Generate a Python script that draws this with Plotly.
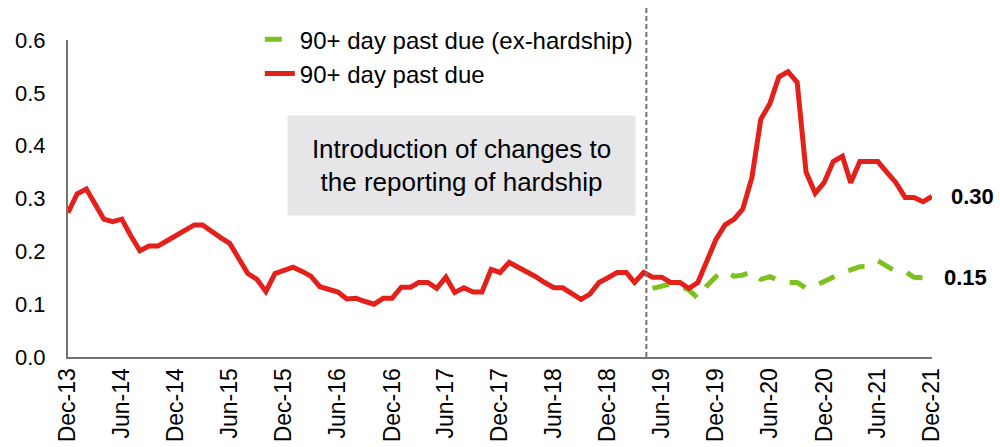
import pandas as pd
import plotly.graph_objects as go

months = pd.date_range("2013-12-01", "2021-12-01", freq="MS")

# 90+ day past due, monthly Dec-13 .. Dec-21
dpd90 = [0.273, 0.309, 0.318, 0.29, 0.261, 0.256, 0.261, 0.23, 0.201, 0.21,
         0.21, 0.22, 0.23, 0.24, 0.25, 0.25, 0.237, 0.226, 0.215, 0.187,
         0.158, 0.147, 0.124, 0.158, 0.164, 0.17, 0.162, 0.153, 0.133, 0.129,
         0.123, 0.11, 0.111, 0.105, 0.10, 0.111, 0.111, 0.132, 0.132, 0.141,
         0.141, 0.13, 0.151, 0.122, 0.131, 0.123, 0.123, 0.166, 0.16, 0.179,
         0.17, 0.161, 0.152, 0.141, 0.131, 0.131, 0.12, 0.109, 0.119, 0.141,
         0.15, 0.16, 0.16, 0.141, 0.16, 0.151, 0.151, 0.141, 0.141, 0.13,
         0.141, 0.184, 0.222, 0.25, 0.261, 0.28, 0.34, 0.45, 0.48, 0.53,
         0.54, 0.52, 0.35, 0.31, 0.33, 0.37, 0.38, 0.33, 0.37, 0.37,
         0.37, 0.35, 0.33, 0.302, 0.302, 0.294, 0.304]

# 90+ day past due ex-hardship, from May-19
exh_start = 65
dpd90_exh = [0.13, 0.133, 0.138, 0.135, 0.127, 0.111, 0.135, 0.152, 0.162, 0.153,
             0.155, 0.162, 0.147, 0.152, 0.145, 0.141, 0.141, 0.13, 0.135, 0.143,
             0.152, 0.16, 0.165, 0.171, 0.172, 0.182, 0.172, 0.162, 0.162, 0.151,
             0.15, 0.15]

change_date = "2019-04-10"
box_text = "Introduction of changes to<br>the reporting of hardship"

red = "#E3201A"
green = "#7DC11F"
axis_grey = "#777272"
font = "Liberation Sans"

fig = go.Figure()
fig.add_trace(go.Scatter(x=months[exh_start:], y=dpd90_exh, mode="lines",
                         name="90+ day past due (ex-hardship)",
                         line=dict(color=green, width=5, dash="17px,15px")))
fig.add_trace(go.Scatter(x=months, y=dpd90, mode="lines",
                         name="90+ day past due",
                         line=dict(color=red, width=5)))

fig.add_shape(type="line", xref="x", yref="paper", x0=change_date, x1=change_date,
              y0=0, y1=1.11, line=dict(color=axis_grey, width=2, dash="5px,3px"))

fig.add_annotation(x="2017-07-25", y=0.363, xref="x", yref="y", text=box_text,
                   showarrow=False, width=347, height=99, borderpad=0,
                   bgcolor="#E6E5E8", font=dict(size=26, color="black", family=font))

fig.add_annotation(x=months[-1], y=dpd90[-1], text="<b>%.2f</b>" % dpd90[-1],
                   showarrow=False, xanchor="left", xshift=17,
                   font=dict(size=22, color="black", family=font))
fig.add_annotation(x=months[-1], y=dpd90_exh[-1], text="<b>%.2f</b>" % dpd90_exh[-1],
                   showarrow=False, xanchor="left", xshift=10,
                   font=dict(size=22, color="black", family=font))

fig.update_layout(
    width=1000, height=447,
    margin=dict(l=68, r=68, t=40, b=90),
    plot_bgcolor="white", paper_bgcolor="white",
    font=dict(family=font, color="black"),
    showlegend=True,
    legend=dict(x=0.222, y=1.072, xanchor="left", yanchor="top",
                font=dict(size=24), bgcolor="rgba(0,0,0,0)", tracegroupgap=0),
    xaxis=dict(range=[months[0], months[-1]], tick0="2013-12-01", dtick="M6",
               tickformat="%b-%y", tickangle=-90, tickfont=dict(size=23),
               showgrid=False, showline=True, linecolor=axis_grey, linewidth=2,
               ticks="", zeroline=False, automargin=False),
    yaxis=dict(range=[0, 0.6], dtick=0.1, tickformat=".1f", tickfont=dict(size=22),
               showgrid=False, showline=True, linecolor=axis_grey, linewidth=2,
               ticks="", zeroline=False, ticklabelstandoff=16, automargin=False),
)

fig.write_html("out.html", config={"displayModeBar": False},
               post_script="document.body.style.margin='0';")
